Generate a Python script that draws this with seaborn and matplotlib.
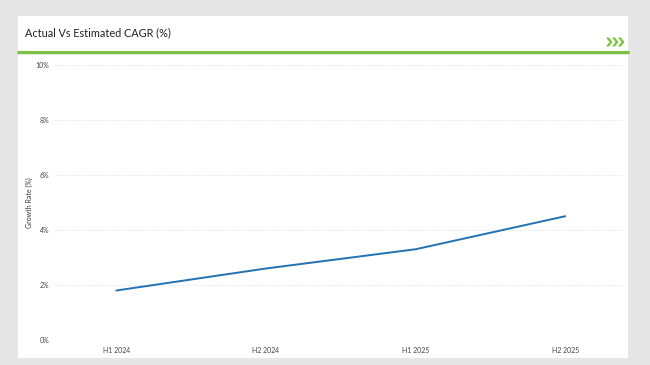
import matplotlib
matplotlib.use("Agg")
import matplotlib.pyplot as plt
import seaborn as sns
import pandas as pd
from matplotlib.patches import Rectangle, Polygon
from matplotlib.lines import Line2D

periods = ["H1 2024", "H2 2024", "H1 2025", "H2 2025"]
growth = [1.8, 2.6, 3.3, 4.5]
yticks = [0, 2, 4, 6, 8, 10]
ytick_labels = ["0%", "2%", "4%", "6%", "8%", "10%"]
title = "Actual Vs Estimated CAGR (%)"
ylabel = "Growth Rate (%)"

sns.set_theme(style="white")
plt.rcParams['font.family'] = ['Lato', 'DejaVu Sans']

W, H = 650, 365
fig = plt.figure(figsize=(6.5, 3.65), dpi=100)
fig.patch.set_facecolor("#e6e6e6")

# white panels (header and chart)
fig.patches.append(Rectangle((18 / W, 1 - 52 / H), (628 - 18) / W, (52 - 16) / H,
                             transform=fig.transFigure, facecolor="white", edgecolor="none", zorder=-5))
fig.patches.append(Rectangle((18 / W, 1 - 358 / H), (628 - 18) / W, (358 - 55) / H,
                             transform=fig.transFigure, facecolor="white", edgecolor="none", zorder=-5))
# green rule
fig.lines.append(Line2D([18 / W, 628 / W], [1 - 52 / H, 1 - 52 / H], transform=fig.transFigure,
                        color="#7dc242", lw=2.2, zorder=2))
# chevrons
for i in range(3):
    x0 = 606 + i * 6
    yc = 42
    pts = [(x0, yc - 4.5), (x0 + 3, yc - 4.5), (x0 + 6.5, yc), (x0 + 3, yc + 4.5), (x0, yc + 4.5), (x0 + 3.5, yc)]
    fig.patches.append(Polygon([(px / W, 1 - py / H) for px, py in pts], closed=True,
                               transform=fig.transFigure, facecolor="#7dc242", edgecolor="none", zorder=3))

fig.text(25 / W, 1 - 33 / H, title, fontsize=7.8, color="#222222", va="center", ha="left")

ax = fig.add_axes([55 / W, 1 - 340 / H, (622 - 55) / W, (340 - 65) / H])
ax.set_zorder(5)
ax.set_facecolor("none")
df = pd.DataFrame({"period": periods, "growth": growth})
sns.lineplot(data=df, x="period", y="growth", ax=ax, color="#2272b4", lw=1.4, sort=False)

ax.set_xlim(-0.41, 3.38)
ax.set_ylim(0, 10)
ax.set_yticks(yticks)
ax.set_yticklabels(ytick_labels)
ax.set_xticks(range(len(periods)))
ax.set_xticklabels(periods)
ax.tick_params(axis="both", labelsize=5, colors="#444444", length=0)
ax.tick_params(axis="y", pad=4)
ax.tick_params(axis="x", pad=5)
ax.yaxis.grid(True, linestyle=(0, (1, 2)), color="#d5d5d5", lw=0.6)
ax.xaxis.grid(False)
for s in ax.spines.values():
    s.set_visible(False)
ax.set_xlabel("")
ax.set_ylabel(ylabel, fontsize=5, color="#333333", labelpad=2)

fig.savefig("out.png", dpi=100, facecolor=fig.get_facecolor())
